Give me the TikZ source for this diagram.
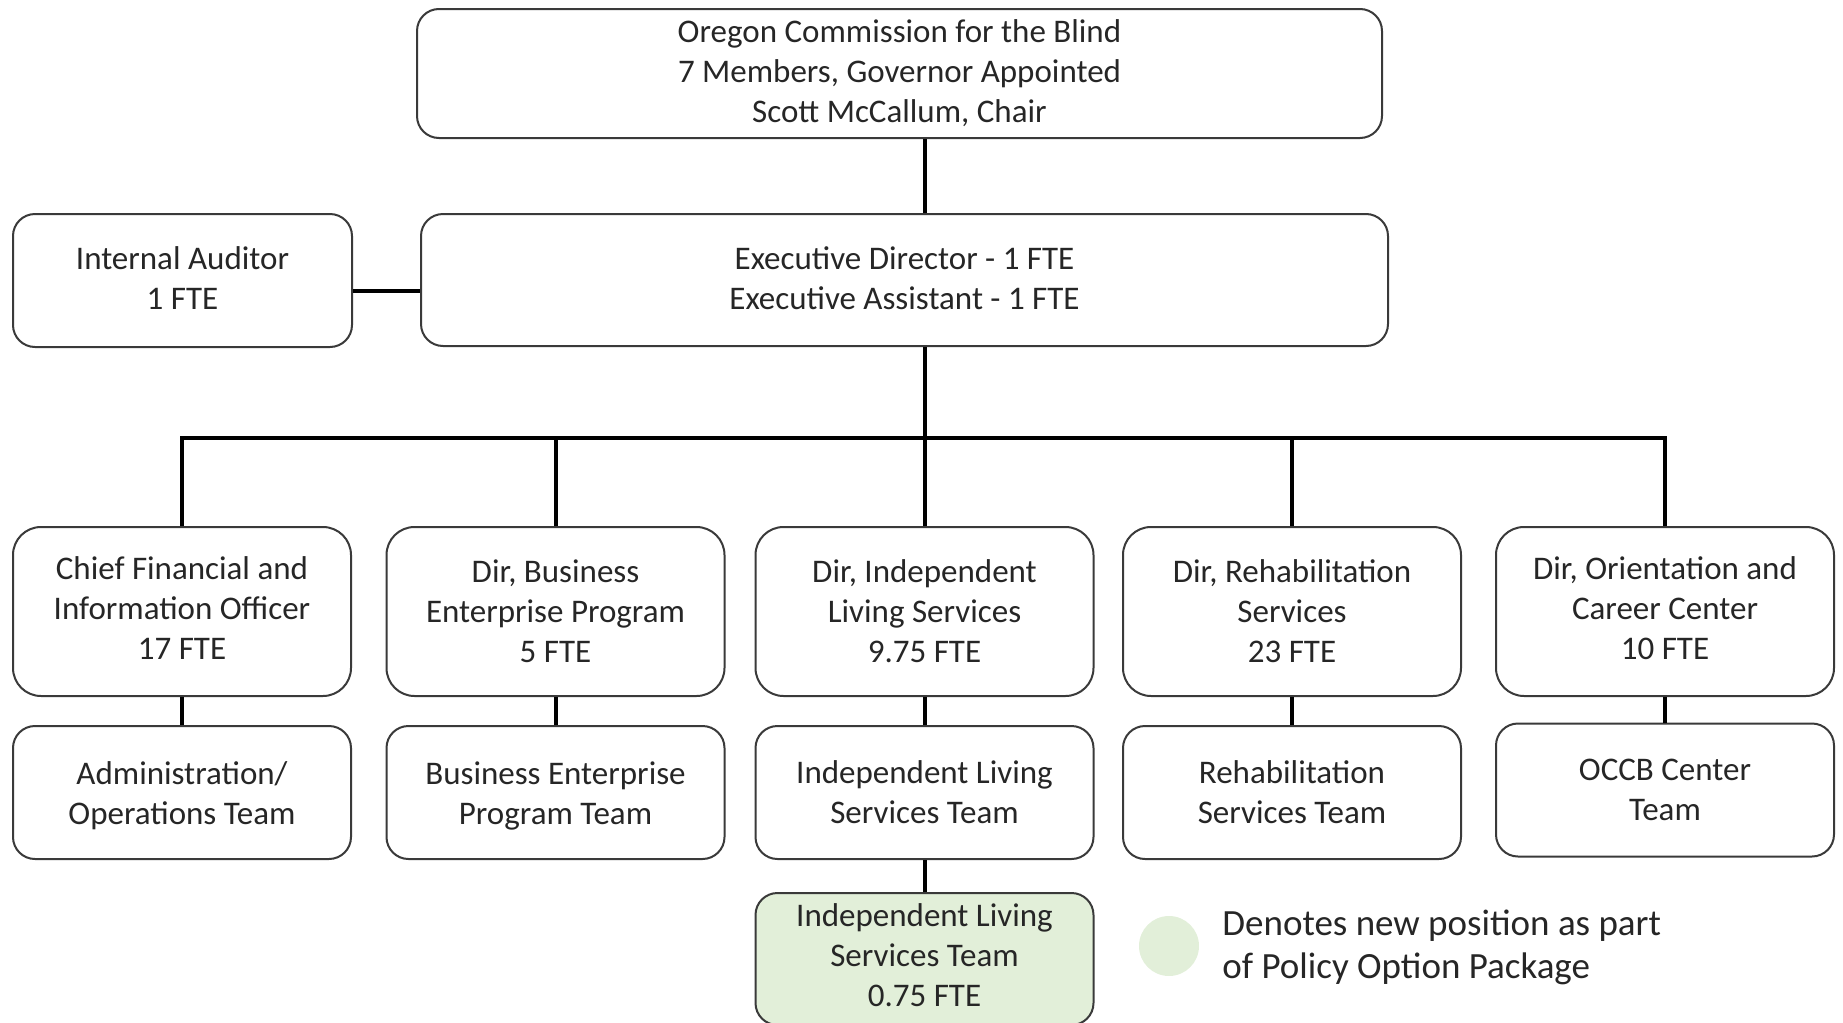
\documentclass[tikz,border=0pt]{standalone}
\usepackage{fontspec}
\setmainfont{Carlito}
\definecolor{boxgray}{HTML}{3A3A3A}
\definecolor{txt}{HTML}{262626}
\definecolor{newgreen}{HTML}{E2EFD9}
\newcommand{\dnup}[1]{\rule[-#1]{0pt}{0pt}}
\newcommand{\updn}[1]{\rule{0pt}{#1}}
\begin{document}
\begin{tikzpicture}[x=0.5pt,y=-0.5pt,
  box/.style={draw=boxgray, line width=1pt, rounded corners=11pt, align=center,
    inner sep=0pt, font=\fontsize{16.5}{20}\selectfont, text=txt, fill=white},
  midbox/.style={box, minimum width=169pt, minimum height=84.5pt, rounded corners=14pt},
  teambox/.style={box, minimum width=169pt, minimum height=66.5pt},
  conn/.style={line width=2pt, black},
]
\useasboundingbox (0,0) rectangle (1843,1023);

\node[box, minimum width=482.5pt, minimum height=64.5pt] (top) at (899.5,73.5)
  {Oregon Commission for the Blind\\7 Members, Governor Appointed\\Scott McCallum, Chair};
\node[box, minimum width=483.5pt, minimum height=66pt] (ed) at (904.5,280)
  {Executive Director - 1 FTE\\Executive Assistant - 1 FTE\dnup{2pt}};
\node[box, minimum width=169.5pt, minimum height=66.5pt] (aud) at (182.5,280.5)
  {Internal Auditor\\1 FTE\dnup{2pt}};

\node[midbox] (c1) at (182,611.5) {Chief Financial and\\Information Officer\\17 FTE\dnup{3.5pt}};
\node[midbox] (c2) at (555.5,611.5) {Dir, Business\\Enterprise Program\\5 FTE};
\node[midbox] (c3) at (924.5,611.5) {Dir, Independent\\Living Services\\9.75 FTE};
\node[midbox] (c4) at (1292,611.5) {Dir, Rehabilitation\\Services\\23 FTE};
\node[midbox] (c5) at (1665,611.5) {Dir, Orientation and\\Career Center\\10 FTE\dnup{3.5pt}};

\node[teambox] (t1) at (182,792.5) {\updn{15pt}Administration/\\Operations Team};
\node[teambox] (t2) at (555.5,792.5) {\updn{15pt}Business Enterprise\\Program Team};
\node[teambox] (t3) at (924.5,792.5) {Independent Living\\Services Team};
\node[teambox] (t4) at (1292,792.5) {Rehabilitation\\Services Team};
\node[teambox] (t5) at (1665,790) {OCCB Center\\Team};

\node[teambox, fill=newgreen, minimum height=66pt] (g) at (924.5,959)
  {Independent Living\\Services Team\\0.75 FTE\dnup{4pt}};

\node[circle, fill=newgreen, minimum size=30pt, inner sep=0pt] (leg) at (1169,946) {};
\node[anchor=west, align=left, inner sep=0pt, text=txt,
  font=\fontsize{18.5}{21.5}\selectfont] (legt) at (1222,947)
  {Denotes new position as part\\of Policy Option Package};

\coordinate (vx) at (925,0);
\coordinate (ay) at (0,291);
\coordinate (bus) at (0,438);

\draw[conn] (top.south -| vx) -- (ed.north -| vx);
\draw[conn] (aud.east |- ay) -- (ed.west |- ay);
\draw[conn] (ed.south -| c3.north) -- (c3.north);
\draw[conn] (c1.north) -- (c1.north |- bus) -- (c5.north |- bus) -- (c5.north);
\foreach \n in {c2,c4} \draw[conn] (\n.north |- bus) -- (\n.north);
\foreach \i in {1,...,5} \draw[conn] (c\i.south) -- (t\i.north);
\draw[conn] (t3.south) -- (g.north);
\end{tikzpicture}
\end{document}
